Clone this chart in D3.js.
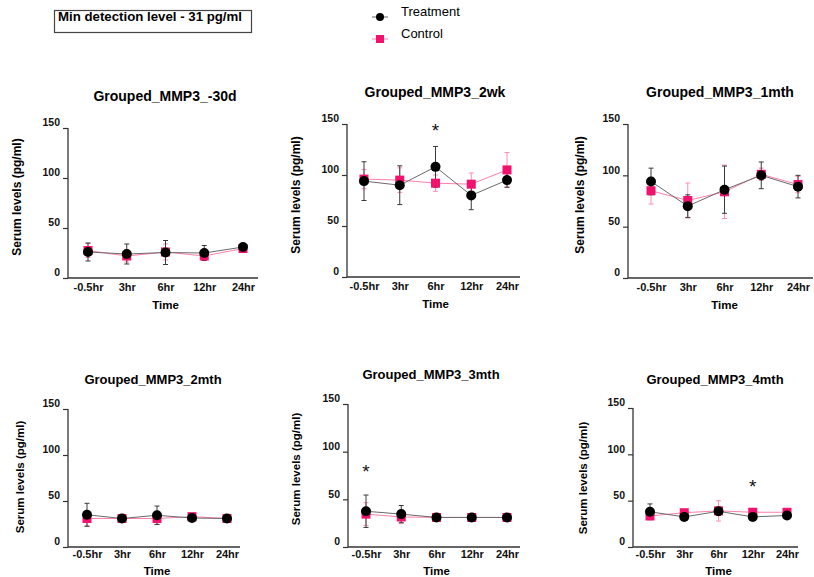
<!DOCTYPE html>
<html>
<head>
<meta charset="utf-8">
<script src="https://cdn.jsdelivr.net/npm/d3@7"></script>
<style>
  body { margin: 0; background: #fff; }
  svg { display: block; font-family: "Liberation Sans", Arial, sans-serif; }
</style>
</head>
<body>
<svg id="chart" width="814" height="577"></svg>
<script>
// ---------- DATA ----------
const categories = ["-0.5hr", "3hr", "6hr", "12hr", "24hr"];
const panelTitles = ["Grouped_MMP3_-30d", "Grouped_MMP3_2wk", "Grouped_MMP3_1mth",
                     "Grouped_MMP3_2mth", "Grouped_MMP3_3mth", "Grouped_MMP3_4mth"];
const yTickValues = [0, 50, 100, 150];

const treatmentMean = [
  [26, 24, 25.5, 25, 31],
  [94, 90, 108, 80, 95],
  [94, 70, 86, 100, 89],
  [35, 31, 34.5, 31.5, 31],
  [37.5, 34.5, 31, 31, 31],
  [38, 32.5, 38.5, 32.5, 34]
];
const treatmentErr = [
  [9, 10, 12, 7.5, 2],
  [19, 19, 20, 14, 7],
  [13, 11, 23, 13, 11],
  [12.5, 1, 10, 1, 1],
  [17, 9, 1, 1, 1],
  [8.5, 2, 4, 2, 2]
];
const controlMean = [
  [27.5, 22, 26, 22, 29.5],
  [96, 95, 92, 91, 105],
  [85, 75.5, 84, 101, 91],
  [31, 31, 31, 33, 31],
  [34.5, 31.5, 31, 31, 31],
  [33.5, 37, 39, 37.5, 37.5]
];
const controlErr = [
  [7, 6, 8, 4, 2],
  [9.5, 12, 8, 11, 17],
  [13, 17, 26, 6, 8],
  [8, 1, 6.5, 2, 1],
  [12, 7, 1, 1, 1],
  [3, 3, 11, 2, 2]
];
// significance markers: panel index, category, y value
const asteriskPanel = [1, 4, 5];
const asteriskCategory = ["6hr", "-0.5hr", "12hr"];
const asteriskValue = [146, 82, 68];

const seriesNames = ["Treatment", "Control"];
const noteText = "Min detection level - 31 pg/ml";

// ---------- LAYOUT ----------
const layouts = [
  {ax: 68,  yTop: 128, yBot: 278, x0: 88,  x1: 243, xEnd: 258, tx: 165, ty: 96,  lx: 17,  ly: 197, tf: 14, lf: 12, big: true},
  {ax: 347, yTop: 124, yBot: 277, x0: 364, x1: 507, xEnd: 520, tx: 435, ty: 92,  lx: 296, ly: 195, tf: 14, lf: 12, big: true},
  {ax: 628, yTop: 124, yBot: 278, x0: 651, x1: 798, xEnd: 813, tx: 720, ty: 92,  lx: 580, ly: 195, tf: 14, lf: 12, big: true},
  {ax: 68,  yTop: 409, yBot: 547, x0: 87,  x1: 227, xEnd: 240, tx: 153, ty: 379, lx: 20,  ly: 477, tf: 13, lf: 11.5, big: false},
  {ax: 348, yTop: 404, yBot: 547, x0: 366, x1: 507, xEnd: 520, tx: 431, ty: 374, lx: 296, ly: 469, tf: 13, lf: 11.5, big: false},
  {ax: 633, yTop: 408, yBot: 547, x0: 650, x1: 787, xEnd: 798, tx: 715, ty: 379, lx: 583, ly: 478, tf: 13, lf: 11.5, big: false}
];

const PINK = "#f2126e";
const PINK_LINE = "#ff7fa8";
const PINK_ERR = "#ff8db4";
const BLACK = "#000";
const BLACK_LINE = "#6a6a6a";
const BLACK_ERR = "#3a3a3a";
const AXIS = "#333";

const svg = d3.select("#chart");

// note box
svg.append("rect").attr("x", 54.5).attr("y", 10.5).attr("width", 197).attr("height", 22)
  .attr("fill", "none").attr("stroke", "#444").attr("stroke-width", 1.2);
svg.append("text").attr("x", 58).attr("y", 20.5).attr("font-size", 13.5).attr("font-weight", "bold")
  .attr("textLength", 184).attr("lengthAdjust", "spacingAndGlyphs")
  .text(noteText);

// legend
const legendY = [17, 39];
seriesNames.forEach((name, i) => {
  const g = svg.append("g");
  g.append("line").attr("x1", 372).attr("x2", 388).attr("y1", legendY[i]).attr("y2", legendY[i])
    .attr("stroke", i === 0 ? BLACK_LINE : PINK_LINE).attr("stroke-width", 1);
  if (i === 0) {
    g.append("circle").attr("cx", 380).attr("cy", legendY[i]).attr("r", 4).attr("fill", BLACK);
  } else {
    g.append("rect").attr("x", 376).attr("y", legendY[i] - 4).attr("width", 8).attr("height", 8).attr("fill", PINK);
  }
  g.append("text").attr("x", 401).attr("y", legendY[i] - 6).attr("dy", "0.35em")
    .attr("font-size", 13).text(name);
});

// panels
layouts.forEach((L, p) => {
  const g = svg.append("g");
  const x = d3.scalePoint().domain(categories).range([L.x0, L.x1]);
  const y = d3.scaleLinear().domain([0, 150]).range([L.yBot, L.yTop]);

  // title
  g.append("text").attr("x", L.tx).attr("y", L.ty).attr("dy", "0.35em").attr("text-anchor", "middle")
    .attr("font-size", L.tf).attr("font-weight", "bold").text(panelTitles[p]);

  // y axis
  const yAxis = d3.axisLeft(y).tickValues(yTickValues).tickSize(5).tickPadding(3);
  const ya = g.append("g").attr("transform", `translate(${L.ax},0)`).call(yAxis);
  ya.select(".domain").attr("stroke", AXIS).attr("stroke-width", 1.3).attr("d", `M0,${L.yTop}V${L.yBot}`);
  ya.selectAll(".tick line").attr("stroke", AXIS).attr("stroke-width", 1.2);
  ya.selectAll(".tick text").attr("font-size", 10.5).attr("font-weight", "bold").attr("fill", "#111")
    .attr("font-family", "Liberation Sans, Arial, sans-serif").attr("dy", "-0.2em");

  // x axis
  const xAxis = d3.axisBottom(x).tickSize(0).tickPadding(L.big ? 5 : 3);
  const xa = g.append("g").attr("transform", `translate(0,${L.yBot})`).call(xAxis);
  xa.select(".domain").attr("stroke", AXIS).attr("stroke-width", 1.3).attr("d", `M${L.ax},0H${L.xEnd}`);
  xa.selectAll(".tick text").attr("font-size", 11).attr("font-weight", "bold").attr("fill", "#111")
    .attr("font-family", "Liberation Sans, Arial, sans-serif");

  // axis labels
  g.append("text").attr("x", (L.x0 + L.x1) / 2).attr("y", L.big ? L.yBot + 27 : L.yBot + 24).attr("dy", "0.35em")
    .attr("text-anchor", "middle").attr("font-size", 11.5).attr("font-weight", "bold").text("Time");
  g.append("text").attr("transform", `translate(${L.lx},${L.ly}) rotate(-90)`).attr("dy", "0.35em")
    .attr("text-anchor", "middle").attr("font-size", L.lf).attr("font-weight", "bold").text("Serum levels (pg/ml)");

  const series = [
    {mean: controlMean[p], err: controlErr[p], line: PINK_LINE, errc: PINK_ERR, kind: "square"},
    {mean: treatmentMean[p], err: treatmentErr[p], line: BLACK_LINE, errc: BLACK_ERR, kind: "circle"}
  ];

  // error bars (all below markers)
  series.forEach(s => {
    const eg = g.append("g").attr("stroke", s.errc).attr("stroke-width", 1);
    categories.forEach((c, i) => {
      const cx = x(c), hi = y(s.mean[i] + s.err[i]), lo = y(s.mean[i] - s.err[i]);
      eg.append("line").attr("x1", cx).attr("x2", cx).attr("y1", hi).attr("y2", lo);
      eg.append("line").attr("x1", cx - 2.5).attr("x2", cx + 2.5).attr("y1", hi).attr("y2", hi);
      eg.append("line").attr("x1", cx - 2.5).attr("x2", cx + 2.5).attr("y1", lo).attr("y2", lo);
    });
  });

  // lines and markers
  series.forEach(s => {
    const line = d3.line().x((d, i) => x(categories[i])).y(d => y(d));
    g.append("path").datum(s.mean).attr("d", line).attr("fill", "none")
      .attr("stroke", s.line).attr("stroke-width", 1);
    if (s.kind === "circle") {
      g.selectAll(null).data(s.mean).enter().append("circle")
        .attr("cx", (d, i) => x(categories[i])).attr("cy", d => y(d)).attr("r", 5).attr("fill", BLACK);
    } else {
      g.selectAll(null).data(s.mean).enter().append("rect")
        .attr("x", (d, i) => x(categories[i]) - 4.5).attr("y", d => y(d) - 4.5)
        .attr("width", 9).attr("height", 9).attr("fill", PINK);
    }
  });

  // asterisks
  asteriskPanel.forEach((ap, k) => {
    if (ap !== p) return;
    g.append("text").attr("x", x(asteriskCategory[k])).attr("y", y(asteriskValue[k]) + 9)
      .attr("text-anchor", "middle").attr("font-size", 19).attr("fill", "#111").text("*");
  });
});
</script>
</body>
</html>
